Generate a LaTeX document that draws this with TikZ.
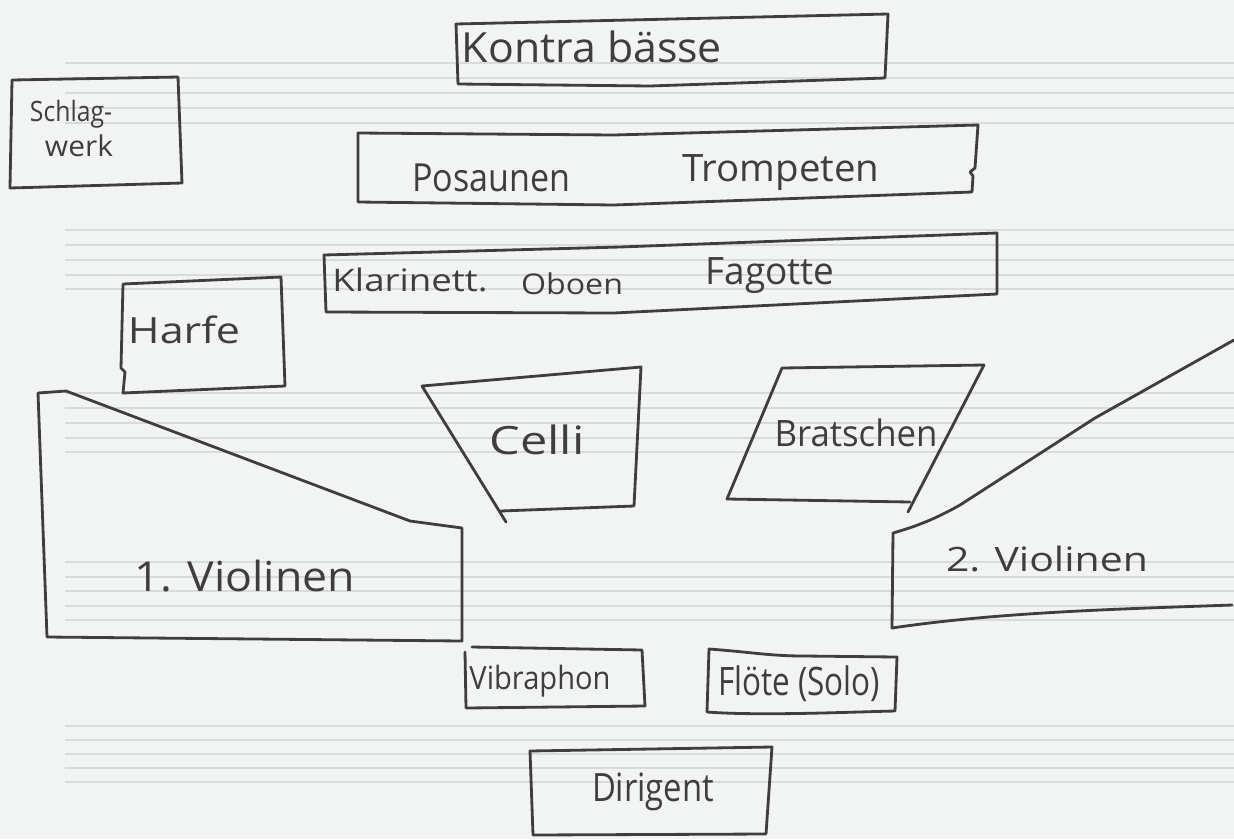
\documentclass[tikz,border=0pt]{standalone}
\usepackage{fontspec}
\usepackage{graphicx}
\setmainfont{Open Sans}
\newlength\pxu
\setlength\pxu{0.02cm}
\newcommand\hw[3]{\resizebox*{#1\pxu}{#2\pxu}{#3}}
\definecolor{paper}{HTML}{F2F4F3}
\definecolor{staff}{HTML}{D9DBDA}
\definecolor{ink}{HTML}{3E3E3E}
\tikzset{
  area/.style={draw=ink, line width=1.6pt, line join=round, line cap=round},
  staffline/.style={draw=staff, line width=0.8pt},
  lbl/.style={inner sep=0pt, outer sep=0pt, text=ink, anchor=center}
}
\begin{document}
\begin{tikzpicture}[x=0.02cm, y=-0.02cm]
\useasboundingbox (0,0) rectangle (1234,839);
\fill[paper] (0,0) rectangle (1234,839);
% staff lines
\foreach \y in {63,78,93,108,123, 230,245,260,275,289, 393,408,423,438,452, 562,577,591,606,620, 726,740,754,768,782}
  \draw[staffline] (65,\y) -- (1234,\y);

% Schlagwerk
\draw[area] (12,80) -- (178,77) -- (182,183) -- (10,188) -- cycle;
% Kontrabaesse
\draw[area] (456,24) -- (888,14) -- (885,78) -- (650,86) -- (458,84) -- cycle;
% Posaunen / Trompeten
\draw[area] (358,133) -- (614,135) -- (978,125) -- (975,168) -- (970,172) -- (973,176) -- (972,192) -- (614,205) -- (358,202) -- cycle;
% Klarinetten / Oboen / Fagotte
\draw[area] (324,255) -- (620,247) -- (997,233) -- (997,294) -- (614,313) -- (326,312) -- cycle;
% Harfe
\draw[area] (123,284) -- (281,277) -- (285,386) -- (123,393) -- (125,372) -- (121,368) -- cycle;
% Celli
\draw[area] (506,522) -- (422,386) -- (641,367) -- (634,506) -- (501,511);
% Bratschen
\draw[area] (727,499) -- (782,368) -- (984,365) -- (908,512);
\draw[area] (727,499) -- (910,502);
% 1. Violinen
\draw[area] (47,637) -- (38,393) -- (66,391) -- (410,521) -- (462,528) -- (462,641) -- cycle;
% 2. Violinen
\draw[area] (1234,340) -- (1095,418) -- (960,505) .. controls (930,522) and (910,528) .. (893,533) -- (892,628) .. controls (1000,612) and (1120,609) .. (1232,605);
% Vibraphon
\draw[area] (472,647) -- (642,650) -- (645,706) -- (466,708) -- (465,652);
% Floete
\draw[area] (709,649) .. controls (750,652) and (770,656) .. (804,656) -- (897,657) -- (895,711) .. controls (850,712) and (760,716) .. (707,712) -- cycle;
% Dirigent
\draw[area] (530,751) -- (772,747) -- (766,834) -- (533,835) -- cycle;

% labels
\node[lbl] (kontra) at (592,47) {\hw{260}{32}{Kontra bässe}};
\node[lbl] (schlag) at (71,114) {\hw{82}{28}{Schlag-}};
\node[lbl] (werk) at (79,146) {\hw{68}{22}{werk}};
\node[lbl] (posaunen) at (491,178) {\hw{158}{28}{Posaunen}};
\node[lbl] (trompeten) at (781,173) {\hw{197}{36}{Trompeten}};
\node[lbl] (klarinett) at (410,280) {\hw{155}{24}{Klarinett.}};
\node[lbl] (oboen) at (572,284) {\hw{102}{22}{Oboen}};
\node[lbl] (fagotte) at (770,276) {\hw{129}{36}{Fagotte}};
\node[lbl] (harfe) at (184,330) {\hw{112}{28}{Harfe}};
\node[lbl] (celli) at (537,440) {\hw{95}{30}{Celli}};
\node[lbl] (bratschen) at (856,433) {\hw{163}{28}{Bratschen}};
\node[lbl] (violin1) at (245,576) {\hw{220}{32}{1. Violinen}};
\node[lbl] (violin2) at (1047,559) {\hw{202}{26}{2. Violinen}};
\node[lbl] (vibraphon) at (540,681) {\hw{141}{32}{Vibraphon}};
\node[lbl] (floete) at (799,684) {\hw{162}{36}{Flöte (Solo)}};
\node[lbl] (dirigent) at (653,792) {\hw{122}{38}{Dirigent}};
\end{tikzpicture}
\end{document}
